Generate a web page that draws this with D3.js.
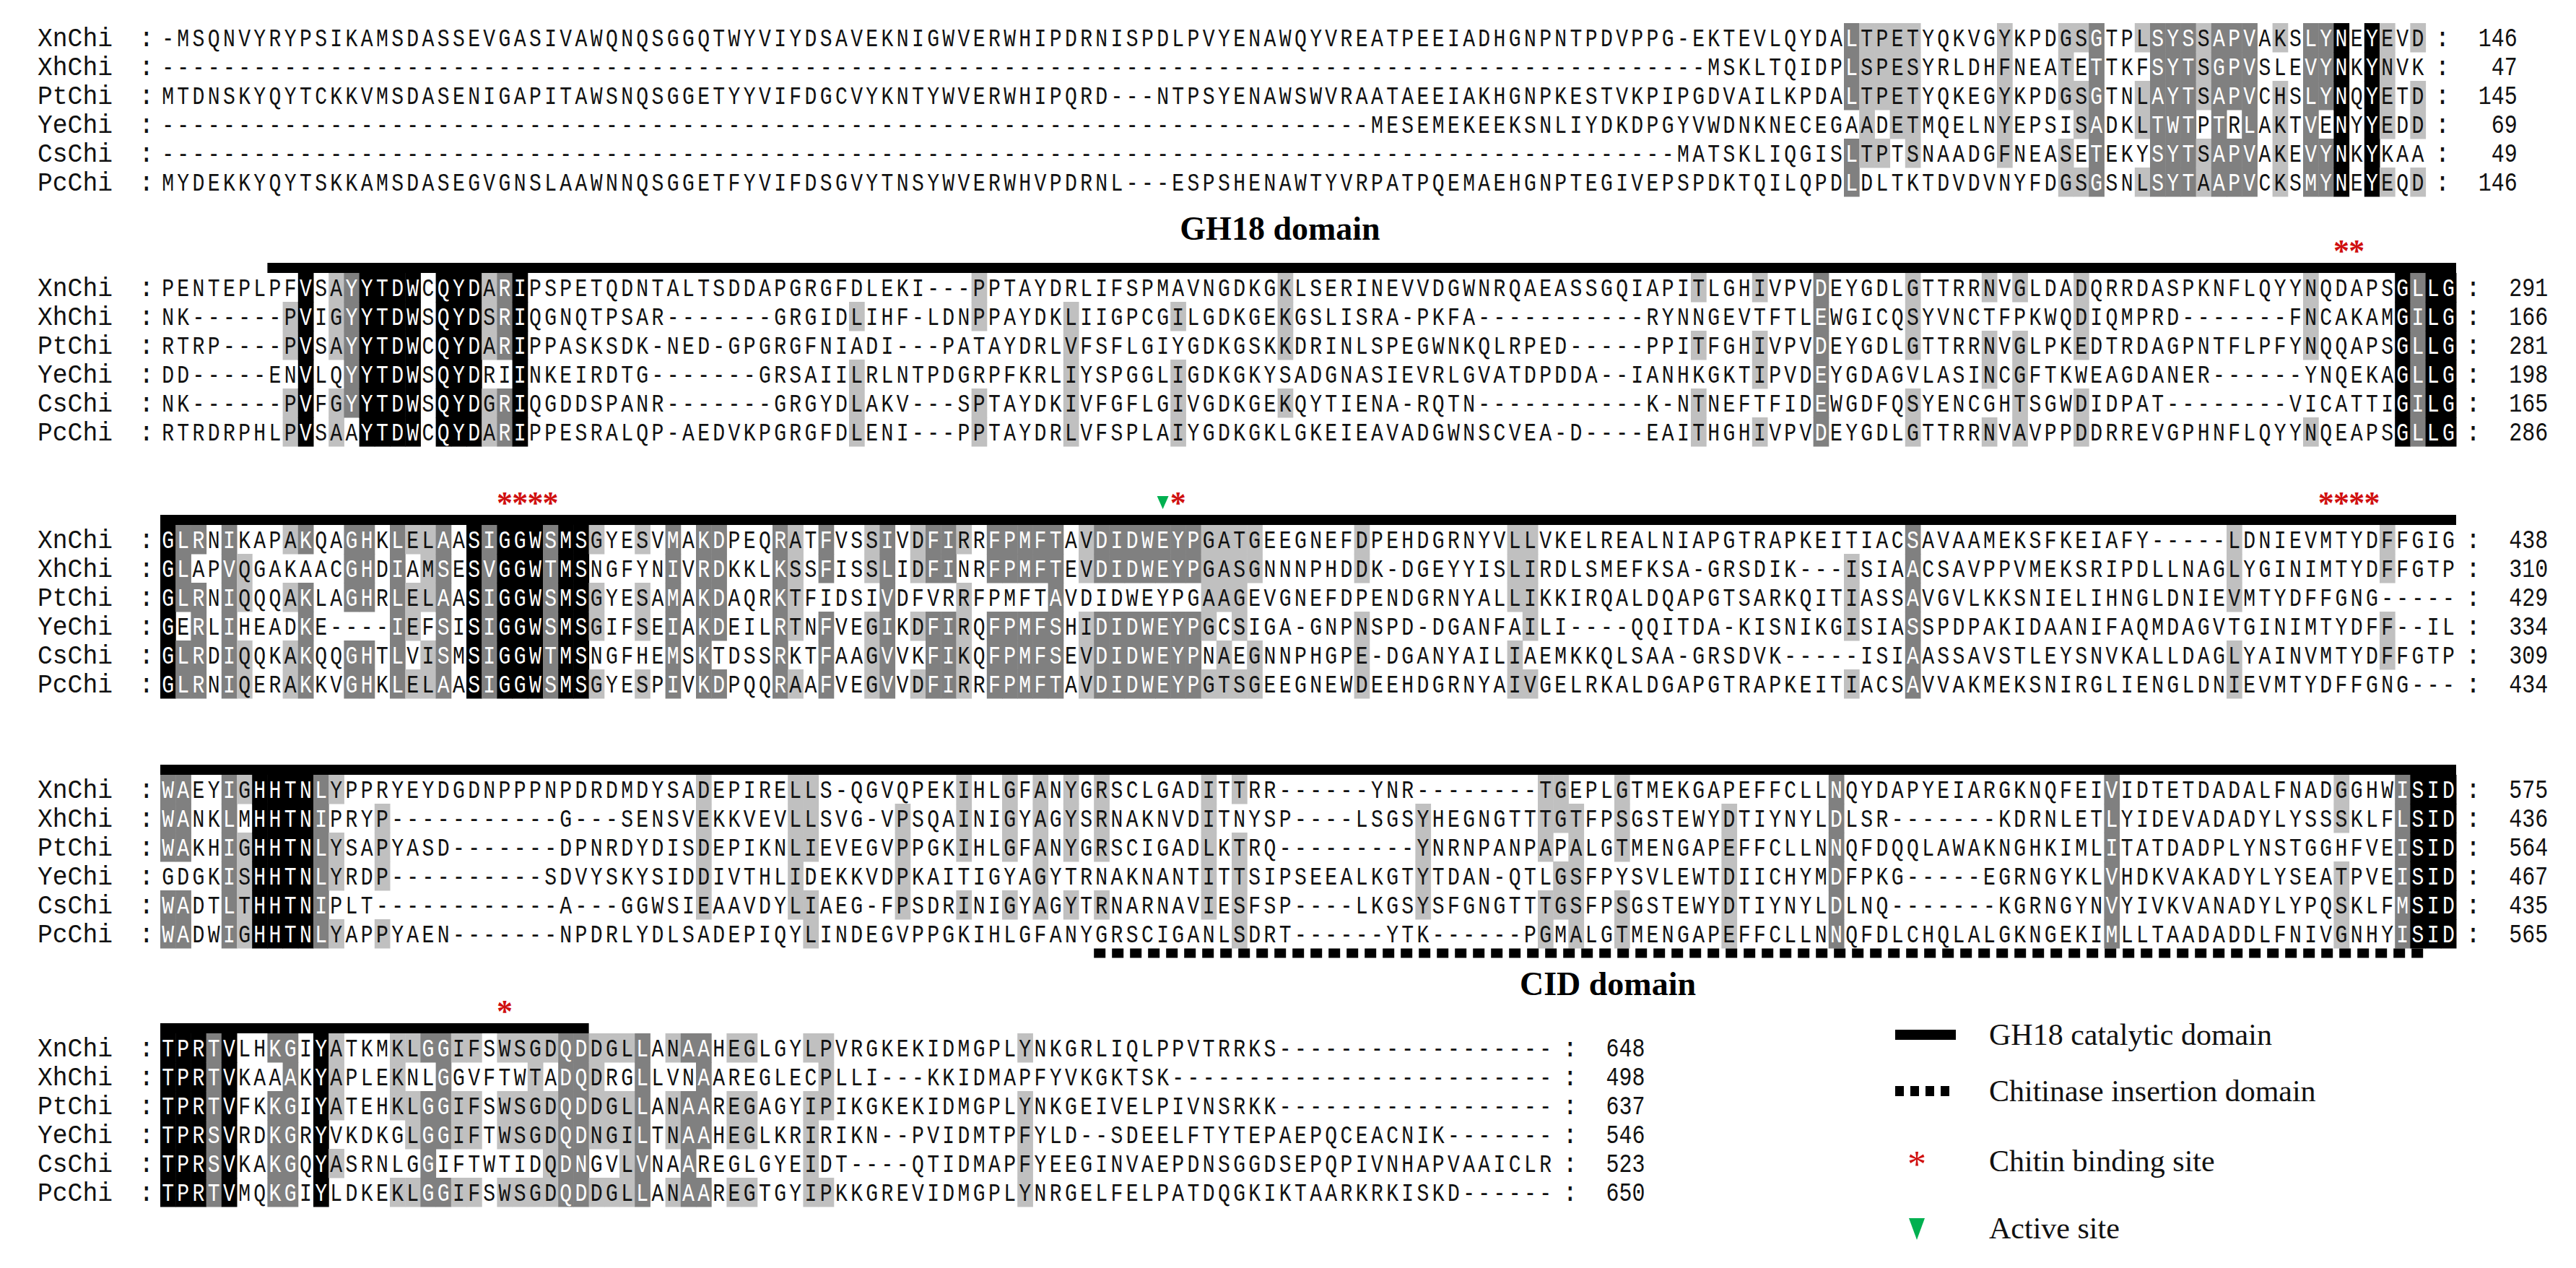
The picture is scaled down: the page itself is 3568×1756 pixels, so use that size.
<!DOCTYPE html>
<html><head><meta charset="utf-8">
<script src="https://cdn.jsdelivr.net/npm/d3@7"></script>
<style>body{margin:0;background:#fff}</style></head>
<body><svg id="c" width="3568" height="1756"></svg>
<script>
const names = ["XnChi","XhChi","PtChi","YeChi","CsChi","PcChi"];
const block1 = [
"-MSQNVYRYPSIKAMSDASSEVGASIVAWQNQSGGQTWYVIYDSAVEKNIGWVERWHIPDRNISPDLPVYENAWQYVREATPEEIADHGNPNTPDVPPG-EKTEVLQYDALTPETYQKVGYKPDGSGTPLSYSSAPVAKSLYNEYEVD",
"-----------------------------------------------------------------------------------------------------MSKLTQIDPLSPESYRLDHFNEATETTKFSYTSGPVSLEVYNKYNVK",
"MTDNSKYQYTCKKVMSDASENIGAPITAWSNQSGGETYYVIFDGCVYKNTYWVERWHIPQRD---NTPSYENAWSWVRAATAEEIAKHGNPKESTVKPIPGDVAILKPDALTPETYQKEGYKPDGSGTNLAYTSAPVCHSLYNQYETD",
"-------------------------------------------------------------------------------MESEMEKEEKSNLIYDKDPGYVWDNKNECEGAADETMQELNYEPSISADKLTWTPTRLAKTVENYYEDD",
"---------------------------------------------------------------------------------------------------MATSKLIQGISLTPTSNAADGFNEASETEKYSYTSAPVAKEVYNKYKAA",
"MYDEKKYQYTSKKAMSDASEGVGNSLAAWNNQSGGETFYVIFDSGVYTNSYWVERWHVPDRNL--ESPSHENAWTYVRPATPQEMAEHGNPTEGIVEPSPDKTQILQPDLDLTKTDVDVNYFDGSGSNLSYTAAPVCKSMYNEYEQD"];
const block2 = [
"PENTEPLPFVSAYYTDWCQYDARIPSPETQDNTALTSDDAPGRGFDLEKI---PPTAYDRLIFSPMAVNGDKGKLSERINEVVDGWNRQAEASSGQIAPITLGHIVPVDEYGDLGTTRRNVGLDADQRRDASPKNFLQYYNQDAPSGLLG",
"NK------PVIGYYTDWSQYDSRIQGNQTPSAR-------GRGIDLIHF-LDNPPAYDKLIIGPCGILGDKGEKGSLISRA-PKFA-----------RYNNGEVTFTLEWGICQSYVNCTFPKWQDIQMPRD-----FNCAKAMGILG",
"RTRP----PVSAYYTDWCQYDARIPPASKSDK-NED-GPGRGFNIADI---PATAYDRLVFSFLGIYGDKGSKKDRINLSPEGWNKQLRPED---PPITFGHIVPVDEYGDLGTTRRNVGLPKEDTRDAGPNTFLPFYNQQAPSGLLG",
"DD-----ENVLQYYTDWSQYDRIINKEIRDTG-------GRSAIILRLNTPDGRPFKRLIYSPGGLIGDKGKYSADGNASIEVRLGVATDPDDA--IANHKGKTIPVDEYGDAGVLASINCGFTKWEAGDANER-----YNQEKAGLLG",
"NK------PVFGYYTDWSQYDGRIQGDDSPANR-------GRGYDLAKV---SPTAYDKIVFGFLGIVGDKGEKQYTIENA-RQTN-----------K-NTNEFTFIDEWGDFQSYENCGHTSGWDIDPAT-----VICATTIGILG",
"RTRDRPHLPVSAAYTDWCQYDARIPPESRALQP-AEDVKPGRGFDLENI---PPTAYDRLVFSPLAIYGDKGKLGKEIEAVADGWNSCVEA-D---EAITHGHIVPVDEYGDLGTTRRNVAVPPDDRREVGPHNFLQYYNQEAPSGLLG"];
const block3 = [
"GLRNIKAPAKQAGHKLELAASIGGWSMSGYESVMAKDPEQRATFVSSIVDFIRRFPMFTAVDIDWEYPGATGEEGNEFDPEHDGRNYVLLVKELREALNIAPGTRAPKEITIACSAVAAMEKSFKEIAFY-LDNIEVMTYDFFGIG",
"GLAPVQGAKAACGHDIAMSESVGGWTMSNGFYNIVRDKKLKSSFISSLIDFINRFPMFTEVDIDWEYPGASGNNNPHDDK-DGEYYISLIRDLSMEFKSA-GRSDIK-ISIAACSAVPPVMEKSRIPDLLNAGLYGINIMTYDFFGTP",
"GLRNIQQQAKLAGHRLELAASIGGWSMSGYESAMAKDAQRKTFIDSIVDFVRRFPMFTAVDIDWEYPGAAGEVGNEFDPENDGRNYALLIKKIRQALDQAPGTSARKQITIASSAVGVLKKSNIELIHNGLDNIEVMTYDFFGNG",
"GERLIHEADKE----IEFSISIGGWSMSGIFSEIAKDEILRTNFVEGIKDFIRQFPMFSHIDIDWEYPGCSIGA-GNPNSPD-DGANFAILI----QQITDA-KISNIKGISIASSPDPAKIDAANIFAQMDAGVTGINIMTYDFF-IL",
"GLRDIQQKAKQQGHTLVISMSIGGWTMSNGFHEMSKTDSSRKTFAAGVVKFIKQFPMFSEVDIDWEYPNAEGNNPHGPE-DGANYAILIAEMKKQLSAA-GRSDVK-ISIAASSAVSTLEYSNVKALLDAGLYAINVMTYDFFGTP",
"GLRNIQERAKKVGHKLELAASIGGWSMSGYESPIVKDPQQRAAFVEGVVDFIRRFPMFTAVDIDWEYPGTSGEEGNEWDEEHDGRNYAIVGELRKALDGAPGTRAPKEITIACSAVVAKMEKSNIRGLIENGLDNIEVMTYDFFGNG"];
const block4 = [
"WAEYIGHHTNLYPPRYEYDGDNPPPNPDRDMDYSADEPIRELLS-QGVQPEKIHLGFANYGRSCLGADITTRR------YNR-----TGEPLGTMEKGAPEFFCLLNQYDAPYEIARGKNQFEIVIDTETDADALFNADGGHWISID",
"WANKLMHHTNIPRYP-----------G---SENSVEKKVEVLLSVG-VPSQAINIGYAGYSRNAKNVDITNYSP----LSGSYHEGNGTTTGTFPSGSTEWYDTIYNYLDLSR--KDRNLETLYIDEVADADYLYSSSKLFLSID",
"WAKHIGHHTNLYSAPYASD-------DPNRDYDISDEPIKNLIEVEGVPPGKIHLGFANYGRSCIGADLKTRQ------YNRNPANPAPALGTMENGAPEFFCLLNNQFDQQLAWAKNGHKIMLITATDADPLYNSTGGHFVEISID",
"GDGKISHHTNLYRDP----------SDVYSKYSIDDIVTHLIDEKKVDPKAITIGYAGYTRNAKNANTITTSIPSEEALKGTYTDAN-QTLGSFPYSVLEWTDIICHYMDFPKG--EGRNGYKLVHDKVAKADYLYSEATPVEISID",
"WADTLTHHTNIPLT------------A---GGWSIEAAVDYLIAEG-FPSDRINIGYAGYTRNARNAVIESFSP----LKGSYSFGNGTTTGSFPSGSTEWYDTIYNYLDLNQ--KGRNGYNVYIVKVANADYLYPQSKLFMSID",
"WADWIGHHTNLYAPPYAEN-------NPDRLYDLSADEPIQYLINDEGVPPGKIHLGFANYGRSCIGANLSDRT------YTK----PGMALGTMENGAPEFFCLLNNQFDLCHQLALGKNGEKIMLLTAADADDLFNIVGNHYISID"];
const block5 = [
"TPRTVLHKGIYATKMKLGGIFSWSGDQDDGLLANAAHEGLGYLPVRGKEKIDMGPLYNKGRLIQLPPVTRRKS------------------",
"TPRTVKAAAKYAPLEKNLGGVFTWTADQDRGLLVNAAREGLECPLLI--KKIDMAPFYVKGKTSK-------------------------",
"TPRTVFKKGIYATEHKLGGIFSWSGDQDDGLLANAAREGAGYIPIKGKEKIDMGPLYNKGEIVELPIVNSRKK------------------",
"TPRSVRDKGRYVKDKGLGGIFTWSGDQDNGILTNAAHEGLKRIRIKN--PVIDMTPFYLD--SDEELFTYTEPAEPQCEACNIK-------",
"TPRSVKAKGQYASRNLGGIFTWTIDQDNGVLVNAAREGLGYEIDT--QTIDMAPFYEEGINVAEPDNSGGDSEPQPIVNHAPVAAICLR",
"TPRTVMQKGIYLDKEKLGGIFSWSGDQDDGLLANAAREGTGYIPKKGREVIDMGPLYNRGELFELPATDQGKIKTAARKRKISKD-----"];
const blocks = [block1, block2, block3, block4, block5];
const blockCols = [148, 150, 150, 150, 91];
const endNumbers = [[146,47,145,69,49,146],[291,166,281,198,165,286],[438,310,429,334,309,434],[575,436,564,467,435,565],[648,498,637,546,523,650]];
const blockTops = [52, 398, 747, 1093, 1451];
const gh18Bars = [{b:1,from:7,to:150},{b:2,from:0,to:150},{b:3,from:0,to:150},{b:4,from:0,to:28}];
const chitinSites = [{b:1,cols:[142,143]},{b:2,cols:[22,23,24,25]},{b:2,cols:[66]},{b:2,cols:[141,142,143,144]},{b:4,cols:[22]}];
const activeSites = [{b:2,col:65}];
const cidBars = [{b:3,from:61,to:148}];
const legendItems = ["GH18 catalytic domain","Chitinase insertion domain","Chitin binding site","Active site"];

// align each row to the block width by adjusting its last internal gap run
function fitRow(s, L){
  let a = s.split("");
  const lastGap = () => { const t = a.join("").replace(/-+$/,""); const i = t.lastIndexOf("-"); return i; };
  let guard = 0;
  while (a.length < L && guard++ < 20){ const i = lastGap(); if (i>0) a.splice(i,0,"-"); else a.push("-"); }
  while (a.length > L && guard++ < 40){ const i = lastGap(); if (i>0) a.splice(i,1); else a.pop(); }
  return a.join("");
}
const aligned = blocks.map((bl,b) => bl.map(s => fitRow(s, blockCols[b])));

const svg = d3.select("#c");
const cw = 21.2, x0 = 222, rowH = 40;
const x = d3.scaleLinear().domain([0,1]).range([x0, x0+cw]);
const yRow = d3.scaleLinear().domain([0,1]).range([0,rowH]);
const mono = "'Liberation Mono','Courier New',monospace";
const serif = "'Liberation Serif','Times New Roman',serif";
const groups = ["DENQ","KRH","ILMV","FYW","STAG","P","C"];
const grp = ch => groups.findIndex(g => g.includes(ch));

function shade(block, c){
  const chars = block.map(s => s[c]);
  const cnt = {}, gcnt = {};
  chars.forEach(ch => { if (ch && ch !== '-'){ cnt[ch]=(cnt[ch]||0)+1; const g=grp(ch); gcnt[g]=(gcnt[g]||0)+1; } });
  let best=null, n=0;
  for (const k in cnt) if (cnt[k]>n){n=cnt[k];best=k;}
  const bg = best ? grp(best) : -2;
  return {best, n, bg, gn: best ? gcnt[bg] : 0};
}
aligned.forEach((block, b) => {
  const g = svg.append("g");
  const ncol = blockCols[b];
  const cells = [];
  for (let c=0;c<ncol;c++){
    const {best,n,bg,gn} = shade(block,c);
    block.forEach((s,r) => {
      const ch = s[c]; if (!ch) return;
      let level = 0;
      if (ch === best){
        if (n>=6) level=3; else if (n>=5 || gn>=6) level=2; else if (n>=4 || gn>=5) level=1;
      } else if (ch !== '-' && grp(ch) === bg && bg >= 0){
        if (gn>=6) level=2; else if (gn>=5) level=1;
      }
      cells.push({c,r,ch,level});
    });
  }
  const fill = ["none","#c0c0c0","#808080","#000000"];
  const tcol = ["#111","#111","#fff","#fff"];
  g.selectAll("rect").data(cells.filter(d=>d.level>0)).join("rect")
    .attr("x", d=>x(d.c)).attr("y", d=>blockTops[b]+yRow(d.r)-rowH/2)
    .attr("width", cw+0.5).attr("height", rowH+0.5).attr("fill", d=>fill[d.level]);
  g.selectAll("text.ch").data(cells).join("text").attr("class","ch")
    .attr("transform", d=>`translate(${x(d.c)+cw/2},${blockTops[b]+yRow(d.r)+12}) scale(0.78,1)`)
    .attr("text-anchor","middle").attr("font-family",mono).attr("font-size",36)
    .attr("fill", d=>tcol[d.level]).text(d=>d.ch);
  names.forEach((nm,r)=>{
    const yy = blockTops[b]+yRow(r)+12;
    g.append("text").attr("x",52).attr("y",yy).attr("font-family",mono).attr("font-size",36)
      .attr("textLength",104).attr("lengthAdjust","spacingAndGlyphs").attr("fill","#111").text(nm);
    g.append("text").attr("x",192).attr("y",yy).attr("font-family",mono).attr("font-size",36).attr("fill","#111").text(":");
    g.append("text").attr("x",x(ncol+0.6)).attr("y",yy).attr("font-family",mono).attr("font-size",36).attr("fill","#111").text(":");
    g.append("text").attr("x",x(ncol+6)).attr("y",yy).attr("text-anchor","end").attr("font-family",mono).attr("font-size",36)
      .attr("textLength", String(endNumbers[b][r]).length*18).attr("lengthAdjust","spacingAndGlyphs").attr("fill","#111").text(endNumbers[b][r]);
  });
});
svg.selectAll("rect.gh").data(gh18Bars).join("rect").attr("class","gh")
  .attr("x", d=>x(d.from)).attr("width", d=>x(d.to)-x(d.from))
  .attr("y", d=>blockTops[d.b]-34).attr("height", 14).attr("fill","#000");
chitinSites.forEach(s => s.cols.forEach(c => {
  svg.append("text").attr("x", x(c)+cw/2).attr("y", blockTops[s.b]-36).attr("text-anchor","middle")
    .attr("font-family",serif).attr("font-weight","bold").attr("font-size",44).attr("fill","#d01010").text("*");
}));
activeSites.forEach(s => {
  const cx = x(s.col)+cw/2, cy = blockTops[s.b]-60;
  svg.append("path").attr("d", `M${cx-8},${cy} L${cx+8},${cy} L${cx},${cy+18}Z`).attr("fill","#00b050");
});
svg.selectAll("line.cid").data(cidBars).join("line").attr("class","cid")
  .attr("x1", d=>x(d.from)).attr("x2", d=>x(d.to))
  .attr("y1", d=>blockTops[d.b]+yRow(5)+27).attr("y2", d=>blockTops[d.b]+yRow(5)+27)
  .attr("stroke","#000").attr("stroke-width",13).attr("stroke-dasharray","16 9");
svg.append("text").attr("x",1773).attr("y",332).attr("text-anchor","middle").attr("font-family",serif)
  .attr("font-weight","bold").attr("font-size",46).text("GH18 domain");
svg.append("text").attr("x",2227).attr("y",1378).attr("text-anchor","middle").attr("font-family",serif)
  .attr("font-weight","bold").attr("font-size",46).text("CID domain");
const ly = [1433,1511,1608,1701];
const lg = svg.append("g");
lg.append("line").attr("x1",2625).attr("x2",2709).attr("y1",ly[0]).attr("y2",ly[0]).attr("stroke","#000").attr("stroke-width",14);
lg.append("line").attr("x1",2625).attr("x2",2709).attr("y1",ly[1]).attr("y2",ly[1]).attr("stroke","#000").attr("stroke-width",14).attr("stroke-dasharray","12 9");
lg.append("text").attr("x",2655).attr("y",ly[2]+22).attr("text-anchor","middle").attr("font-family",serif).attr("font-size",52).attr("fill","#d01010").text("*");
lg.append("path").attr("d",`M2644,${ly[3]-14} L2666,${ly[3]-14} L2655,${ly[3]+16}Z`).attr("fill","#00b050");
lg.selectAll("text.li").data(legendItems).join("text").attr("class","li")
  .attr("x",2755).attr("y",(d,i)=>ly[i]+14).attr("font-family",serif).attr("font-size",42).attr("fill","#111").text(d=>d);
</script></body></html>
